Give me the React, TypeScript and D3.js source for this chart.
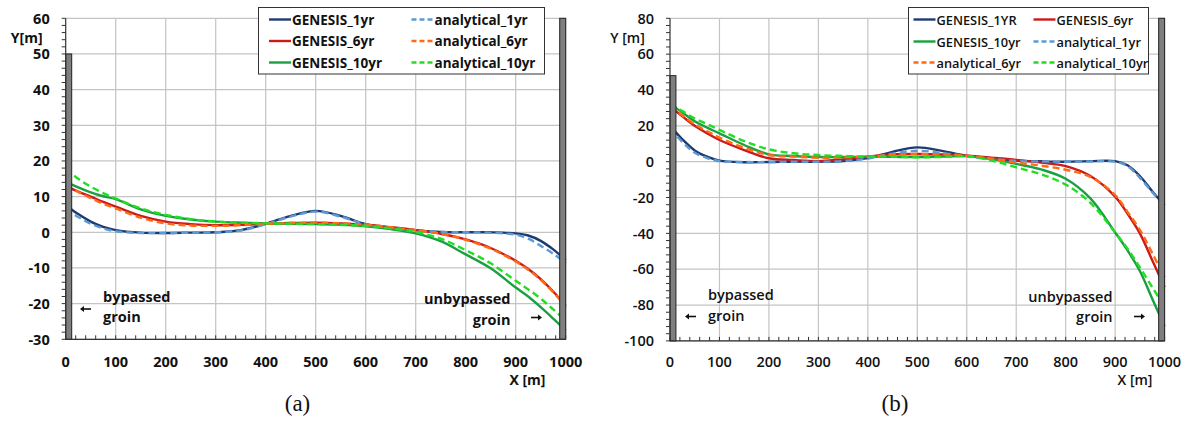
import React from 'react';
import * as d3 from 'd3';

// ---------- DATA ----------
const X_POINTS = [0, 25, 50, 75, 100, 150, 200, 250, 300, 350, 400, 450, 500, 550, 600, 650, 700, 750, 800, 850, 900, 925, 950, 975, 1000];
const X_TICKS = [0, 100, 200, 300, 400, 500, 600, 700, 800, 900, 1000];

// panel (a)
const A_Y_TICKS = [-30, -20, -10, 0, 10, 20, 30, 40, 50, 60];
const A_GENESIS_1YR = [7.6, 5.1, 3.0, 1.5, 0.6, -0.1, -0.2, -0.1, 0, 0.6, 2.4, 4.6, 6.0, 4.6, 2.3, 1.3, 0.6, 0.1, 0, 0, -0.3, -0.9, -2.4, -4.8, -7.8];
const A_ANALYTICAL_1YR = [6.6, 4.3, 2.4, 1.1, 0.3, -0.2, -0.2, -0.1, 0, 0.5, 2.3, 4.4, 5.8, 4.4, 2.2, 1.2, 0.5, 0.1, 0, -0.1, -0.7, -1.8, -3.8, -6.0, -8.6];
const A_GENESIS_6YR = [13.0, 11.4, 10.0, 8.5, 7.2, 4.6, 3.0, 2.3, 2.0, 2.1, 2.4, 2.6, 2.7, 2.5, 2.1, 1.4, 0.6, -0.4, -2.0, -4.4, -8.0, -10.3, -13.1, -16.6, -20.6];
const A_ANALYTICAL_6YR = [13.5, 11.3, 9.6, 8.0, 6.7, 4.1, 2.5, 1.9, 1.8, 2.0, 2.4, 2.6, 2.7, 2.5, 2.1, 1.4, 0.6, -0.4, -2.1, -4.6, -8.2, -10.5, -13.3, -16.8, -20.8];
const A_GENESIS_10YR = [14.2, 12.6, 11.2, 10.1, 9.3, 6.4, 4.6, 3.6, 3.0, 2.7, 2.5, 2.4, 2.3, 2.1, 1.7, 0.9, -0.3, -2.5, -6.2, -10.1, -15.5, -18.0, -21.0, -24.2, -27.5];
const A_ANALYTICAL_10YR = [17.8, 15.0, 12.8, 11.0, 9.5, 6.7, 4.9, 3.7, 3.0, 2.7, 2.5, 2.4, 2.3, 2.1, 1.8, 1.1, 0.1, -1.8, -5.0, -8.7, -13.6, -16.0, -18.6, -21.6, -24.8];

// panel (b)
const B_Y_TICKS = [-100, -80, -60, -40, -20, 0, 20, 40, 60, 80];
const B_GENESIS_1YR = [20.0, 12.5, 6.3, 2.8, 0.6, -0.3, -0.2, 0, 0, 0.4, 2.0, 5.5, 8.0, 6.0, 3.3, 1.8, 0.6, 0.2, 0, 0.3, 0.3, -2.0, -8.0, -16.5, -24.5];
const B_ANALYTICAL_1YR = [18.5, 11.0, 5.0, 2.0, 0.3, -0.2, -0.2, 0, 0, 0.3, 1.8, 4.5, 6.1, 4.8, 3.1, 1.6, 0.4, 0.1, 0, 0.1, 0, -2.5, -9.0, -17.0, -25.0];
const B_GENESIS_6YR = [30.7, 25.3, 20.0, 15.8, 12.1, 6.5, 1.9, 0.9, 0.3, 1.3, 2.8, 4.1, 4.3, 4.0, 3.3, 2.2, 1.0, -0.5, -2.5, -8.0, -19.5, -29.0, -40.0, -55.0, -70.0];
const B_ANALYTICAL_6YR = [31.0, 25.8, 20.8, 17.0, 13.4, 7.8, 3.7, 2.8, 2.2, 2.4, 2.8, 3.8, 4.3, 4.0, 3.3, 1.6, -0.5, -2.2, -4.5, -8.5, -18.6, -28.0, -38.0, -51.0, -64.5];
const B_GENESIS_10YR = [32.4, 27.4, 22.6, 19.0, 15.8, 9.3, 4.1, 3.2, 2.6, 2.6, 2.8, 2.7, 2.6, 2.9, 3.1, 1.4, -1.2, -4.3, -9.5, -20.5, -39.5, -49.5, -61.0, -76.5, -92.0];
const B_ANALYTICAL_10YR = [32.2, 28.2, 24.1, 21.0, 17.7, 11.5, 6.9, 4.7, 3.7, 3.2, 2.8, 2.8, 2.4, 2.6, 3.0, 0.6, -3.2, -7.0, -12.8, -23.0, -39.5, -48.5, -59.0, -70.0, -81.0];

// ---------- STYLE ----------
const C_NAVY = '#1f3a70';
const C_BLUE = '#5b9bd5';
const C_RED = '#cc1a1a';
const C_ORANGE = '#ff6a13';
const C_GREEN = '#19a040';
const C_LIME = '#22dd22';
const FONT = '"Open Sans", Lato, "Liberation Sans", sans-serif';

type Series = { name: string; values: number[]; color: string; dashed: boolean };
type LegendItem = { series: Series; x: number; y: number };

const A_SERIES: Series[] = [
  { name: 'GENESIS_1yr', values: A_GENESIS_1YR, color: C_NAVY, dashed: false },
  { name: 'GENESIS_6yr', values: A_GENESIS_6YR, color: C_RED, dashed: false },
  { name: 'GENESIS_10yr', values: A_GENESIS_10YR, color: C_GREEN, dashed: false },
  { name: 'analytical_1yr', values: A_ANALYTICAL_1YR, color: C_BLUE, dashed: true },
  { name: 'analytical_6yr', values: A_ANALYTICAL_6YR, color: C_ORANGE, dashed: true },
  { name: 'analytical_10yr', values: A_ANALYTICAL_10YR, color: C_LIME, dashed: true },
];
const B_SERIES: Series[] = [
  { name: 'GENESIS_1YR', values: B_GENESIS_1YR, color: C_NAVY, dashed: false },
  { name: 'GENESIS_6yr', values: B_GENESIS_6YR, color: C_RED, dashed: false },
  { name: 'GENESIS_10yr', values: B_GENESIS_10YR, color: C_GREEN, dashed: false },
  { name: 'analytical_1yr', values: B_ANALYTICAL_1YR, color: C_BLUE, dashed: true },
  { name: 'analytical_6yr', values: B_ANALYTICAL_6YR, color: C_ORANGE, dashed: true },
  { name: 'analytical_10yr', values: B_ANALYTICAL_10YR, color: C_LIME, dashed: true },
];

type PanelCfg = {
  id: string;
  xRange: [number, number];
  yDomain: [number, number];
  yRange: [number, number];
  yTicks: number[];
  yMinor: number;
  series: Series[];
  leftBarTop: number;
  legendBox: { x: number; y: number; w: number; h: number };
  legend: LegendItem[];
  yLabel: { text: string; x: number; y: number };
  xLabel: { x: number; y: number };
  bypassed: { x: number; y1: number; y2: number; ax: number; ay: number };
  unbypassed: { x: number; y1: number; y2: number; ax: number; ay: number };
  caption: { text: string; x: number; y: number };
  weight: number;
  legendSize: number;
};

const PANELS: PanelCfg[] = [
  {
    id: 'a',
    xRange: [65.7, 565.7],
    yDomain: [-30, 60],
    yRange: [339.3, 18.3],
    yTicks: A_Y_TICKS,
    yMinor: 2,
    series: A_SERIES,
    leftBarTop: 50,
    legendBox: { x: 258.5, y: 7.5, w: 286, h: 66.5 },
    legend: [
      { series: A_SERIES[0], x: 269, y: 19.5 },
      { series: A_SERIES[1], x: 269, y: 41 },
      { series: A_SERIES[2], x: 269, y: 62.5 },
      { series: A_SERIES[3], x: 411.5, y: 19.5 },
      { series: A_SERIES[4], x: 411.5, y: 41 },
      { series: A_SERIES[5], x: 411.5, y: 62.5 },
    ],
    yLabel: { text: 'Y[m]', x: 26.7, y: 42.5 },
    xLabel: { x: 527.5, y: 384.5 },
    bypassed: { x: 103, y1: 301.5, y2: 321.5, ax: 80, ay: 309 },
    unbypassed: { x: 510.5, y1: 304, y2: 324.5, ax: 542, ay: 317.5 },
    caption: { text: '(a)', x: 297.5, y: 411 },
    weight: 700,
    legendSize: 13.5,
  },
  {
    id: 'b',
    xRange: [670, 1164.6],
    yDomain: [-100, 80],
    yRange: [340.9, 18.3],
    yTicks: B_Y_TICKS,
    yMinor: 4,
    series: B_SERIES,
    leftBarTop: 48,
    legendBox: { x: 908.5, y: 7.5, w: 240, h: 66.5 },
    legend: [
      { series: B_SERIES[0], x: 913.5, y: 19.5 },
      { series: B_SERIES[1], x: 1033.5, y: 19.5 },
      { series: B_SERIES[2], x: 913.5, y: 41.5 },
      { series: B_SERIES[3], x: 1033.5, y: 41.5 },
      { series: B_SERIES[4], x: 913.5, y: 62.5 },
      { series: B_SERIES[5], x: 1033.5, y: 62.5 },
    ],
    yLabel: { text: 'Y [m]', x: 627.5, y: 42.5 },
    xLabel: { x: 1135, y: 384.5 },
    bypassed: { x: 708, y1: 300, y2: 321, ax: 685, ay: 316.5 },
    unbypassed: { x: 1112.5, y1: 301.5, y2: 322, ax: 1145, ay: 316.5 },
    caption: { text: '(b)', x: 895, y: 411 },
    weight: 600,
    legendSize: 12.8,
  },
];

function Arrow({ x, y, dir, len }: { x: number; y: number; dir: number; len: number }) {
  const tail = x - dir * len;
  const head = 4;
  return (
    <g>
      <line x1={tail} y1={y} x2={x - dir * head} y2={y} stroke="#111" strokeWidth={1.6} />
      <path d={`M${x},${y} L${x - dir * head},${y - 3} L${x - dir * head},${y + 3} Z`} fill="#111" />
    </g>
  );
}

function Panel({ cfg }: { cfg: PanelCfg }) {
  const x = d3.scaleLinear().domain([0, 1000]).range(cfg.xRange);
  const y = d3.scaleLinear().domain(cfg.yDomain).range(cfg.yRange);
  const [x0, x1] = cfg.xRange;
  const yTop = y(cfg.yDomain[1]);
  const yBot = y(cfg.yDomain[0]);
  const line = d3
    .line<number>()
    .x((_, i) => x(X_POINTS[i]))
    .y((d) => y(d))
    .curve(d3.curveCatmullRom.alpha(0.5));
  const minorY = d3.range(cfg.yDomain[0], cfg.yDomain[1] + 0.001, cfg.yMinor);
  const minorX = d3.range(0, 1000.001, 20);
  const clipId = `clip-${cfg.id}`;
  const barW = x(12) - x(0);
  const fw = cfg.weight;
  const fs = 14.5;
  return (
    <g>
      <defs>
        <clipPath id={clipId}>
          <rect x={x0} y={yTop} width={x1 - x0 + 2} height={yBot - yTop} />
        </clipPath>
      </defs>
      {cfg.yTicks.map((t) => (
        <line key={`gy${t}`} x1={x0} x2={x1} y1={y(t)} y2={y(t)} stroke="#c4c4c4" strokeWidth={1.2} />
      ))}
      {X_TICKS.filter((t) => t > 0).map((t) => (
        <line key={`gx${t}`} x1={x(t)} x2={x(t)} y1={yTop} y2={yBot} stroke="#c4c4c4" strokeWidth={1.2} />
      ))}
      <g clipPath={`url(#${clipId})`}>
        {cfg.series
          .filter((s) => !s.dashed)
          .map((s) => (
            <path key={s.name} d={line(s.values) || ''} fill="none" stroke={s.color} strokeWidth={2.4} />
          ))}
        {cfg.series
          .filter((s) => s.dashed)
          .map((s) => (
            <path key={s.name} d={line(s.values) || ''} fill="none" stroke={s.color} strokeWidth={2.4} strokeDasharray="7,4" />
          ))}
      </g>
      <rect x={x(0)} y={y(cfg.leftBarTop)} width={barW} height={yBot - y(cfg.leftBarTop)} fill="#7f7f7f" stroke="#222" strokeWidth={1} />
      <rect x={x(988)} y={yTop} width={barW} height={yBot - yTop} fill="#7f7f7f" stroke="#222" strokeWidth={1} />
      <line x1={x0} x2={x0} y1={yTop} y2={yBot} stroke="#333" strokeWidth={1.2} />
      <line x1={x0} x2={x1} y1={yBot} y2={yBot} stroke="#333" strokeWidth={1.2} />
      {minorY.map((t) => (
        <line key={`ty${t}`} x1={x0 - 4} x2={x0} y1={y(t)} y2={y(t)} stroke="#333" strokeWidth={1} />
      ))}
      {minorX.map((t) => (
        <line key={`tx${t}`} x1={x(t)} x2={x(t)} y1={yBot} y2={yBot - 4} stroke="#333" strokeWidth={1} />
      ))}
      {cfg.yTicks.map((t) => (
        <text key={`ly${t}`} x={x0 - 16} y={y(t) + 5.2} textAnchor="end" fontSize={fs} fontWeight={fw} fontFamily={FONT} fill="#111">
          {t}
        </text>
      ))}
      {X_TICKS.map((t) => (
        <text key={`lx${t}`} x={x(t)} y={367} textAnchor="middle" fontSize={fs} fontWeight={fw} fontFamily={FONT} fill="#111">
          {t}
        </text>
      ))}
      <text x={cfg.yLabel.x} y={cfg.yLabel.y} textAnchor="middle" fontSize={14} fontWeight={fw} fontFamily={FONT} fill="#111">
        {cfg.yLabel.text}
      </text>
      <text x={cfg.xLabel.x} y={cfg.xLabel.y} textAnchor="middle" fontSize={14} fontWeight={fw} fontFamily={FONT} fill="#111">
        X [m]
      </text>
      <text x={cfg.bypassed.x} y={cfg.bypassed.y1} fontSize={fs} fontWeight={fw} fontFamily={FONT} fill="#111">bypassed</text>
      <text x={cfg.bypassed.x} y={cfg.bypassed.y2} fontSize={fs} fontWeight={fw} fontFamily={FONT} fill="#111">groin</text>
      <Arrow x={cfg.bypassed.ax} y={cfg.bypassed.ay} dir={-1} len={11} />
      <text x={cfg.unbypassed.x} y={cfg.unbypassed.y1} textAnchor="end" fontSize={fs} fontWeight={fw} fontFamily={FONT} fill="#111">unbypassed</text>
      <text x={cfg.unbypassed.x} y={cfg.unbypassed.y2} textAnchor="end" fontSize={fs} fontWeight={fw} fontFamily={FONT} fill="#111">groin</text>
      <Arrow x={cfg.unbypassed.ax} y={cfg.unbypassed.ay} dir={1} len={11} />
      <rect x={cfg.legendBox.x} y={cfg.legendBox.y} width={cfg.legendBox.w} height={cfg.legendBox.h} fill="#fff" stroke="#333" strokeWidth={1} />
      {cfg.legend.map((it) => (
        <g key={`lg${it.series.name}`}>
          <line
            x1={it.x}
            x2={it.x + 22}
            y1={it.y}
            y2={it.y}
            stroke={it.series.color}
            strokeWidth={2.4}
            strokeDasharray={it.series.dashed ? '5,3' : undefined}
          />
          <text x={it.x + 23} y={it.y + 5} fontSize={cfg.legendSize} fontWeight={fw} fontFamily={FONT} fill="#111">
            {it.series.name}
          </text>
        </g>
      ))}
      <text x={cfg.caption.x} y={cfg.caption.y} textAnchor="middle" fontSize={23} fontFamily='"Liberation Serif", "DejaVu Serif", serif' fill="#111">
        {cfg.caption.text}
      </text>
    </g>
  );
}

export default function App() {
  return (
    <svg width={1189} height={431} style={{ position: 'absolute', left: 0, top: 0, background: '#fff' }}>
      <rect x={0} y={0} width={1189} height={431} fill="#fff" />
      {PANELS.map((p) => (
        <Panel key={p.id} cfg={p} />
      ))}
    </svg>
  );
}
